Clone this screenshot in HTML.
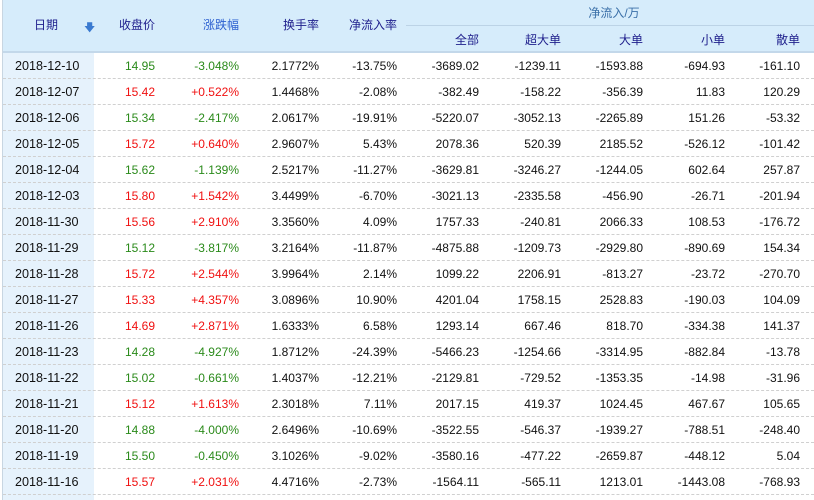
<!DOCTYPE html>
<html><head><meta charset="utf-8"><style>
body{margin:0;width:814px;height:500px;background:#fff;overflow:hidden;font-family:"Liberation Sans","Noto Sans CJK SC",sans-serif;font-size:12px;position:relative}
.a{position:absolute}
.h{color:#1e1e8c;text-align:right;line-height:16px}
.r{position:absolute;left:3px;width:811px;height:26px;border-bottom:1px dashed #d0d0d0;box-sizing:border-box}
.c{position:absolute;top:0;line-height:26px;text-align:right;color:#111}
.g{color:#2a8a1a}.d{color:#f01010}
</style></head><body>
<div class="a" style="left:3px;top:0;width:811px;height:51px;background:#d6ecfb"></div>
<div class="a" style="left:3px;top:51px;width:811px;height:2px;background:#c3d8ea"></div>
<div class="a" style="left:406px;top:25px;width:408px;height:1px;background:#bcd3e6"></div>
<div class="a" style="left:3px;top:53px;width:91px;height:447px;background:#e6f2fc"></div>
<div class="a" style="left:2px;top:0;width:1px;height:500px;background:#c8d6e2"></div>
<div class="a h" style="left:34px;top:17px;width:30px;text-align:left">日期</div>
<div class="a" style="left:84px;top:19px;color:#3a7ad0;font-size:11px">&#129095;</div>
<div class="a h" style="left:95px;top:17px;width:60px">收盘价</div>
<div class="a h" style="left:170px;top:17px;width:69px;color:#2b5fd0">涨跌幅</div>
<div class="a h" style="left:250px;top:17px;width:69px">换手率</div>
<div class="a h" style="left:320px;top:17px;width:77px">净流入率</div>
<div class="a h" style="left:404px;top:5px;width:410px;text-align:center;color:#3a6fa8;padding-left:10px;box-sizing:border-box">净流入/万</div>
<div class="a h" style="left:400px;top:32px;width:79px">全部</div>
<div class="a h" style="left:480px;top:32px;width:81px">超大单</div>
<div class="a h" style="left:560px;top:32px;width:83px">大单</div>
<div class="a h" style="left:640px;top:32px;width:85px">小单</div>
<div class="a h" style="left:720px;top:32px;width:80px">散单</div>
<div id="t"></div>
<script>
var d=[["2018-12-10","14.95","-3.048%","2.1772%","-13.75%","-3689.02","-1239.11","-1593.88","-694.93","-161.10"],
["2018-12-07","15.42","+0.522%","1.4468%","-2.08%","-382.49","-158.22","-356.39","11.83","120.29"],
["2018-12-06","15.34","-2.417%","2.0617%","-19.91%","-5220.07","-3052.13","-2265.89","151.26","-53.32"],
["2018-12-05","15.72","+0.640%","2.9607%","5.43%","2078.36","520.39","2185.52","-526.12","-101.42"],
["2018-12-04","15.62","-1.139%","2.5217%","-11.27%","-3629.81","-3246.27","-1244.05","602.64","257.87"],
["2018-12-03","15.80","+1.542%","3.4499%","-6.70%","-3021.13","-2335.58","-456.90","-26.71","-201.94"],
["2018-11-30","15.56","+2.910%","3.3560%","4.09%","1757.33","-240.81","2066.33","108.53","-176.72"],
["2018-11-29","15.12","-3.817%","3.2164%","-11.87%","-4875.88","-1209.73","-2929.80","-890.69","154.34"],
["2018-11-28","15.72","+2.544%","3.9964%","2.14%","1099.22","2206.91","-813.27","-23.72","-270.70"],
["2018-11-27","15.33","+4.357%","3.0896%","10.90%","4201.04","1758.15","2528.83","-190.03","104.09"],
["2018-11-26","14.69","+2.871%","1.6333%","6.58%","1293.14","667.46","818.70","-334.38","141.37"],
["2018-11-23","14.28","-4.927%","1.8712%","-24.39%","-5466.23","-1254.66","-3314.95","-882.84","-13.78"],
["2018-11-22","15.02","-0.661%","1.4037%","-12.21%","-2129.81","-729.52","-1353.35","-14.98","-31.96"],
["2018-11-21","15.12","+1.613%","2.3018%","7.11%","2017.15","419.37","1024.45","467.67","105.65"],
["2018-11-20","14.88","-4.000%","2.6496%","-10.69%","-3522.55","-546.37","-1939.27","-788.51","-248.40"],
["2018-11-19","15.50","-0.450%","3.1026%","-9.02%","-3580.16","-477.22","-2659.87","-448.12","5.04"],
["2018-11-16","15.57","+2.031%","4.4716%","-2.73%","-1564.11","-565.11","1213.01","-1443.08","-768.93"]];
var R=[155,239,319,397,479,561,643,725,800],h="";
d.forEach(function(r,i){var cl=r[2][0]=="-"?"g":"d";
h+='<div class="r" style="top:'+(53+26*i)+'px"><div class="c" style="left:12px;text-align:left;font-size:12.6px">'+r[0]+'</div>';
for(var j=1;j<10;j++){var x=R[j-1]-3;h+='<div class="c '+(j<3?cl:"")+'" style="left:'+(x-80)+'px;width:80px">'+r[j]+'</div>';}
h+='</div>';});
document.getElementById("t").innerHTML=h;
</script>
</body></html>
